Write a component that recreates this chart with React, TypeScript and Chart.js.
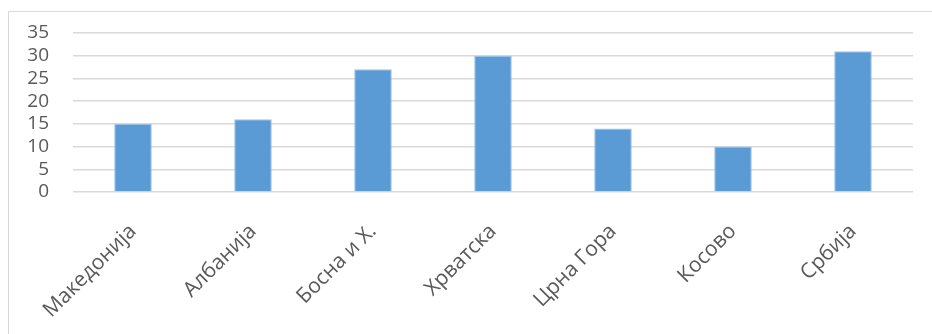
import React, { useEffect, useRef } from "react";
import { Chart, registerables } from "chart.js";

Chart.register(...registerables);

const categories = ["Македонија", "Албанија", "Босна и Х.", "Хрватска", "Црна Гора", "Косово", "Србија"];
const values = [15, 16, 27, 30, 14, 10, 31];
const yMin = 0;
const yMax = 35;
const yStep = 5;

const W = 932;
const H = 334;
const FONT = "'Open Sans', 'Liberation Sans', sans-serif";

export default function App() {
  const canvasRef = useRef<HTMLCanvasElement | null>(null);

  useEffect(() => {
    const canvas = canvasRef.current;
    if (!canvas) return;
    const chart = new Chart(canvas, {
      type: "bar",
      data: {
        labels: categories,
        datasets: [
          {
            data: values,
            backgroundColor: "#5B9BD5",
            borderColor: "#9DC3E6",
            borderWidth: 1,
            categoryPercentage: 1,
            barPercentage: 0.313,
          },
        ],
      },
      options: {
        responsive: false,
        animation: false,
        devicePixelRatio: 1,
        layout: { padding: { left: 0, right: 19, top: 33, bottom: 0 } },
        plugins: { legend: { display: false }, tooltip: { enabled: false } },
        scales: {
          x: {
            grid: { display: false, drawTicks: false },
            border: { display: false },
            ticks: {
              color: "#595959",
              font: { family: FONT, size: 21 },
              minRotation: 45,
              maxRotation: 45,
              padding: 27,
              autoSkip: false,
            },
            afterFit: (s: any) => {
              s.height = H - 192;
            },
          },
          y: {
            min: yMin,
            max: yMax,
            grid: { color: "#D9D9D9", lineWidth: 1.5, drawTicks: false },
            border: { display: false },
            ticks: {
              stepSize: yStep,
              autoSkip: false,
              color: "#595959",
              font: { family: FONT, size: 19 },
              padding: 24,
            },
            afterFit: (s: any) => {
              s.width = 73;
            },
          },
        },
      },
      plugins: [
        {
          id: "plotBox",
          // pin the plot rectangle so the value axis runs from y=33 (35) to y=192 (0)
          afterLayout: (c: any) => {
            c.chartArea.top = 33;
            c.chartArea.bottom = 192;
            const y = c.scales.y;
            y.top = 33;
            y.bottom = 192;
            y.height = 159;
            y.configure();
          },
        },
      ],
    });
    return () => chart.destroy();
  }, []);

  return (
    <div style={{ position: "fixed", left: 0, top: 0, width: W, height: H, background: "#fff", overflow: "hidden" }}>
      <div
        style={{
          position: "absolute",
          left: 8,
          top: 11,
          width: W + 20,
          height: H + 20,
          border: "1px solid #D9D9D9",
          boxSizing: "border-box",
        }}
      />
      <canvas ref={canvasRef} width={W} height={H} style={{ position: "absolute", left: 0, top: 0 }} />
    </div>
  );
}
